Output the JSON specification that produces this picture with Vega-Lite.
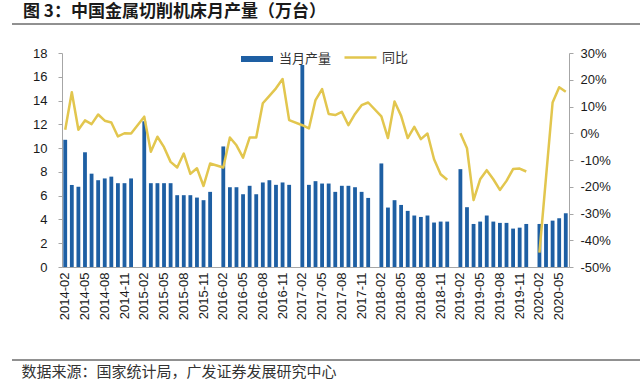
{
  "$schema": "https://vega.github.io/schema/vega-lite/v6.json",
  "padding": {"left": 11, "top": 3, "right": 0, "bottom": 0},
  "spacing": 0,
  "resolve": {"legend": {"fill": "independent", "stroke": "independent"}},
  "config": {
    "view": {"stroke": null},
    "axis": {"labelFont": "Liberation Sans", "labelFontSize": 13, "labelColor": "#1a1a1a", "domainColor": "#a6a6a6", "tickColor": "#a6a6a6", "grid": false, "title": null},
    "legend": {"labelFont": "Noto Sans CJK SC", "labelFontSize": 13, "labelColor": "#333333", "padding": 0}
  },
  "vconcat": [
    {
      "title": {"text": "图 3：中国金属切削机床月产量（万台）", "anchor": "start", "font": "Noto Sans CJK SC", "fontSize": 17, "fontWeight": "bold", "color": "#1a1a1a", "dx": 11, "offset": 1},
      "width": 629,
      "height": 1,
      "data": {"values": []},
      "mark": {"type": "point"},
      "encoding": {}
    },
    {
      "width": 629,
      "height": 16,
      "data": {"values": [{"k": 1}]},
      "mark": {"type": "rule", "color": "#222222", "strokeWidth": 1},
      "encoding": {"y": {"field": "k", "type": "quantitative", "scale": {"domain": [0, 1]}, "axis": null}}
    },
    {
      "spacing": 0,
      "resolve": {"legend": {"fill": "independent", "stroke": "independent"}},
      "hconcat": [
        {
          "width": 1,
          "height": 214,
          "data": {"values": []},
          "mark": {"type": "point"},
          "encoding": {}
        },
        {
          "width": 507,
          "height": 214,
          "data": {"values": [
            {"m":"2014-02","prod":10.7,"yoy":1.3,"seg":1},
            {"m":"2014-03","prod":6.9,"yoy":15.3,"seg":1},
            {"m":"2014-04","prod":6.75,"yoy":1.3,"seg":1},
            {"m":"2014-05","prod":9.65,"yoy":4.8,"seg":1},
            {"m":"2014-06","prod":7.85,"yoy":3.4,"seg":1},
            {"m":"2014-07","prod":7.3,"yoy":7.0,"seg":1},
            {"m":"2014-08","prod":7.45,"yoy":4.7,"seg":1},
            {"m":"2014-09","prod":7.6,"yoy":4.0,"seg":1},
            {"m":"2014-10","prod":7.05,"yoy":-1.2,"seg":1},
            {"m":"2014-11","prod":7.05,"yoy":0.0,"seg":1},
            {"m":"2014-12","prod":7.45,"yoy":-0.1,"seg":1},
            {"m":"2015-02","prod":12.25,"yoy":6.2,"seg":1},
            {"m":"2015-03","prod":7.05,"yoy":-6.9,"seg":1},
            {"m":"2015-04","prod":7.05,"yoy":-1.3,"seg":1},
            {"m":"2015-05","prod":7.05,"yoy":-5.2,"seg":1},
            {"m":"2015-06","prod":7.05,"yoy":-10.7,"seg":1},
            {"m":"2015-07","prod":6.04,"yoy":-12.8,"seg":1},
            {"m":"2015-08","prod":6.04,"yoy":-7.6,"seg":1},
            {"m":"2015-09","prod":6.04,"yoy":-15.2,"seg":1},
            {"m":"2015-10","prod":5.84,"yoy":-13.1,"seg":1},
            {"m":"2015-11","prod":5.62,"yoy":-19.7,"seg":1},
            {"m":"2015-12","prod":6.32,"yoy":-11.3,"seg":1},
            {"m":"2016-02","prod":10.14,"yoy":-12.8,"seg":1},
            {"m":"2016-03","prod":6.71,"yoy":-1.6,"seg":1},
            {"m":"2016-04","prod":6.71,"yoy":-4.5,"seg":1},
            {"m":"2016-05","prod":6.12,"yoy":-9.1,"seg":1},
            {"m":"2016-06","prod":6.83,"yoy":-1.6,"seg":1},
            {"m":"2016-07","prod":6.12,"yoy":-1.6,"seg":1},
            {"m":"2016-08","prod":7.11,"yoy":11.2,"seg":1},
            {"m":"2016-09","prod":7.3,"yoy":14.0,"seg":1},
            {"m":"2016-10","prod":6.91,"yoy":16.8,"seg":1},
            {"m":"2016-11","prod":7.11,"yoy":20.3,"seg":1},
            {"m":"2016-12","prod":6.91,"yoy":4.9,"seg":1},
            {"m":"2017-02","prod":17.0,"yoy":3.0,"seg":1},
            {"m":"2017-03","prod":6.91,"yoy":1.8,"seg":1},
            {"m":"2017-04","prod":7.22,"yoy":12.4,"seg":1},
            {"m":"2017-05","prod":7.02,"yoy":16.5,"seg":1},
            {"m":"2017-06","prod":7.02,"yoy":7.2,"seg":1},
            {"m":"2017-07","prod":6.32,"yoy":6.8,"seg":1},
            {"m":"2017-08","prod":6.83,"yoy":8.0,"seg":1},
            {"m":"2017-09","prod":6.83,"yoy":3.0,"seg":1},
            {"m":"2017-10","prod":6.71,"yoy":7.2,"seg":1},
            {"m":"2017-11","prod":6.32,"yoy":10.5,"seg":1},
            {"m":"2017-12","prod":5.81,"yoy":11.5,"seg":1},
            {"m":"2018-02","prod":8.71,"yoy":6.3,"seg":1},
            {"m":"2018-03","prod":5.0,"yoy":-1.8,"seg":1},
            {"m":"2018-04","prod":5.62,"yoy":11.9,"seg":1},
            {"m":"2018-05","prod":5.22,"yoy":6.5,"seg":1},
            {"m":"2018-06","prod":4.72,"yoy":-1.8,"seg":1},
            {"m":"2018-07","prod":4.33,"yoy":2.4,"seg":1},
            {"m":"2018-08","prod":4.21,"yoy":-2.2,"seg":1},
            {"m":"2018-09","prod":4.33,"yoy":-0.1,"seg":1},
            {"m":"2018-10","prod":3.74,"yoy":-9.7,"seg":1},
            {"m":"2018-11","prod":3.82,"yoy":-15.3,"seg":1},
            {"m":"2018-12","prod":3.82,"yoy":-17.4,"seg":1},
            {"m":"2019-02","prod":8.23,"yoy":0.0,"seg":2},
            {"m":"2019-03","prod":5.03,"yoy":-5.6,"seg":2},
            {"m":"2019-04","prod":3.62,"yoy":-25.0,"seg":2},
            {"m":"2019-05","prod":3.82,"yoy":-17.2,"seg":2},
            {"m":"2019-06","prod":4.33,"yoy":-13.8,"seg":2},
            {"m":"2019-07","prod":3.82,"yoy":-17.2,"seg":2},
            {"m":"2019-08","prod":3.71,"yoy":-21.2,"seg":2},
            {"m":"2019-09","prod":3.71,"yoy":-17.8,"seg":2},
            {"m":"2019-10","prod":3.23,"yoy":-13.4,"seg":2},
            {"m":"2019-11","prod":3.31,"yoy":-13.2,"seg":2},
            {"m":"2019-12","prod":3.62,"yoy":-14.3,"seg":2},
            {"m":"2020-02","prod":3.62,"yoy":-44.6,"seg":3},
            {"m":"2020-03","prod":3.62,"yoy":-16.5,"seg":3},
            {"m":"2020-04","prod":3.9,"yoy":11.5,"seg":3},
            {"m":"2020-05","prod":4.1,"yoy":17.2,"seg":3},
            {"m":"2020-06","prod":4.52,"yoy":15.5,"seg":3}
          ]},
          "encoding": {
            "x": {
              "field": "m",
              "type": "ordinal",
              "scale": {
                "domain": ["2014-02","2014-03","2014-04","2014-05","2014-06","2014-07","2014-08","2014-09","2014-10","2014-11","2014-12",
                  "2015-01","2015-02","2015-03","2015-04","2015-05","2015-06","2015-07","2015-08","2015-09","2015-10","2015-11","2015-12",
                  "2016-01","2016-02","2016-03","2016-04","2016-05","2016-06","2016-07","2016-08","2016-09","2016-10","2016-11","2016-12",
                  "2017-01","2017-02","2017-03","2017-04","2017-05","2017-06","2017-07","2017-08","2017-09","2017-10","2017-11","2017-12",
                  "2018-01","2018-02","2018-03","2018-04","2018-05","2018-06","2018-07","2018-08","2018-09","2018-10","2018-11","2018-12",
                  "2019-01","2019-02","2019-03","2019-04","2019-05","2019-06","2019-07","2019-08","2019-09","2019-10","2019-11","2019-12",
                  "2020-01","2020-02","2020-03","2020-04","2020-05","2020-06"],
                "paddingInner": 0.42,
                "paddingOuter": 0.2
              },
              "axis": {
                "values": ["2014-02","2014-05","2014-08","2014-11","2015-02","2015-05","2015-08","2015-11","2016-02","2016-05","2016-08","2016-11","2017-02","2017-05","2017-08","2017-11","2018-02","2018-05","2018-08","2018-11","2019-02","2019-05","2019-08","2019-11","2020-02","2020-05"],
                "labelAngle": -90,
                "ticks": false,
                "labelPadding": 5,
                "minExtent": 92,
                "maxExtent": 92
              }
            }
          },
          "layer": [
            {
              "mark": {"type": "bar"},
              "encoding": {
                "y": {
                  "field": "prod",
                  "type": "quantitative",
                  "scale": {"domain": [0, 18], "nice": false},
                  "axis": {"values": [0,2,4,6,8,10,12,14,16,18], "tickSize": 4, "labelPadding": 11, "minExtent": 49, "maxExtent": 49}
                },
                "fill": {
                  "datum": "当月产量",
                  "type": "nominal",
                  "scale": {"domain": ["当月产量"], "range": ["#1e5fa3"]},
                  "legend": {"orient": "none", "legendX": 176, "legendY": -13, "title": null, "symbolType": "stroke", "symbolSize": 1024, "symbolStrokeWidth": 6, "symbolStrokeColor": "#1e5fa3", "labelOffset": 3}
                }
              }
            },
            {
              "transform": [{"filter": "isValid(datum.yoy)"}],
              "mark": {"type": "line", "strokeWidth": 2.5, "strokeJoin": "round"},
              "encoding": {
                "y": {
                  "field": "yoy",
                  "type": "quantitative",
                  "scale": {"domain": [-50, 30], "nice": false},
                  "axis": {"orient": "right", "values": [-50,-40,-30,-20,-10,0,10,20,30], "labelExpr": "datum.value + '%'", "tickSize": 4, "labelPadding": 7}
                },
                "detail": {"field": "seg", "type": "nominal"},
                "stroke": {
                  "datum": "同比",
                  "type": "nominal",
                  "scale": {"domain": ["同比"], "range": ["#e2c64e"]},
                  "legend": {"orient": "none", "legendX": 281, "legendY": -13, "title": null, "symbolType": "stroke", "symbolSize": 1024, "symbolStrokeWidth": 2.5, "labelOffset": 4}
                }
              }
            }
          ],
          "resolve": {"scale": {"y": "independent"}, "legend": {"fill": "independent", "stroke": "independent"}}
        }
      ]
    },
    {
      "title": {"text": "数据来源：国家统计局，广发证券发展研究中心", "orient": "bottom", "anchor": "start", "font": "Noto Sans CJK SC", "fontSize": 15, "fontWeight": "normal", "color": "#333333", "dx": 10, "offset": 4},
      "width": 629,
      "height": 1,
      "data": {"values": [{"k": 0}]},
      "mark": {"type": "rule", "color": "#222222", "strokeWidth": 1},
      "encoding": {"y": {"datum": 1, "type": "quantitative", "scale": {"domain": [0, 1]}, "axis": null}}
    }
  ]
}
